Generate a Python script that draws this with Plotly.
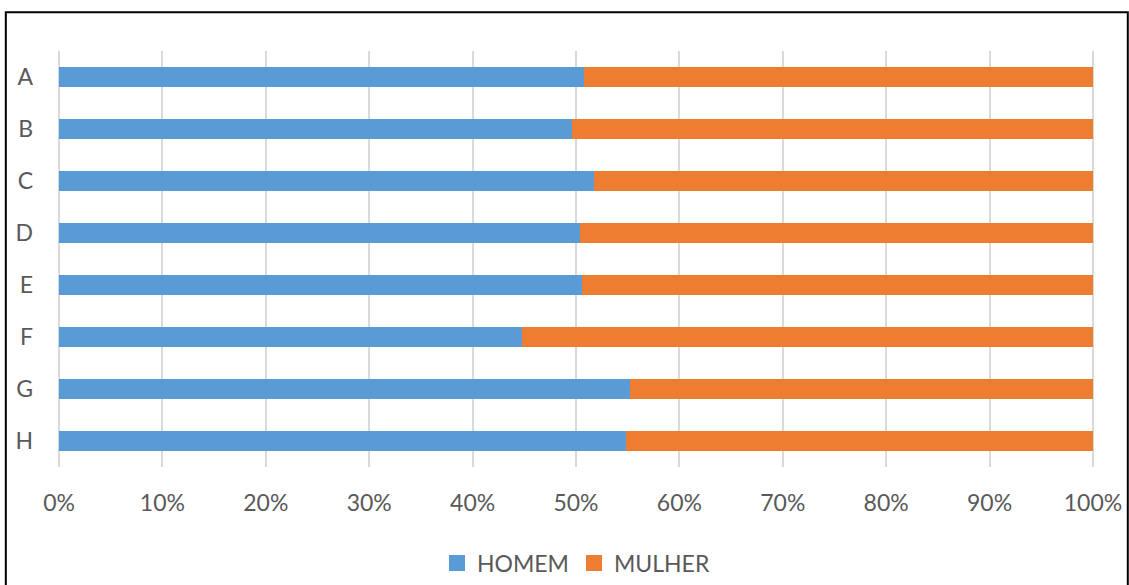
import plotly.graph_objects as go

# Share of men and women per group (fractions of 1)
categories = ["A", "B", "C", "D", "E", "F", "G", "H"]
homem = [0.5075, 0.496, 0.5175, 0.5036, 0.506, 0.4475, 0.552, 0.548]
mulher = [round(1 - h, 4) for h in homem]
tick_vals = [i / 10 for i in range(11)]
tick_text = [f"{i * 10}%" for i in range(11)]

BLUE = "#5B9BD5"
ORANGE = "#ED7D31"

W, H = 1129, 585
L, R, T, B = 57.5, 35.3, 51, 118
pw, ph = W - L - R, H - T - B
pad = 0.001  # keeps the 0% and 100% gridlines inside the plot area

font_family = "Lato, 'Open Sans', sans-serif"
text_color = "#595959"

fig = go.Figure()
fig.add_trace(go.Bar(
    y=categories, x=homem, name="HOMEM", orientation="h",
    marker=dict(color=BLUE, line=dict(width=0)), showlegend=False,
))
fig.add_trace(go.Bar(
    y=categories, x=mulher, name="MULHER", orientation="h",
    marker=dict(color=ORANGE, line=dict(width=0)), showlegend=False,
))

# Legend entries with larger square swatches
for name, color in [("HOMEM", BLUE), ("MULHER", ORANGE)]:
    fig.add_trace(go.Scatter(
        x=[None], y=[None], mode="markers", name=name,
        marker=dict(symbol="square", size=17, color=color),
        showlegend=True, hoverinfo="skip",
    ))


def px_x(px):
    return (px - L) / pw


def px_y(py):
    return (H - B - py) / ph


# Frame around the chart area
fig.add_shape(
    type="rect", xref="paper", yref="paper",
    x0=px_x(5.3), x1=px_x(1127.5), y0=px_y(620), y1=px_y(12.3),
    line=dict(color="black", width=2), fillcolor="rgba(0,0,0,0)",
    layer="above",
)

fig.update_layout(
    width=W, height=H,
    margin=dict(l=L, r=R, t=T, b=B, pad=0, autoexpand=False),
    barmode="stack",
    bargap=0.615,
    plot_bgcolor="white",
    paper_bgcolor="white",
    font=dict(family=font_family, size=23, color=text_color),
    showlegend=True,
    legend=dict(
        orientation="h", x=0.5, xanchor="center",
        yref="container", y=(H - 563) / H, yanchor="middle",
        font=dict(size=23, color=text_color), itemwidth=30,
        traceorder="normal", tracegroupgap=0,
    ),
    xaxis=dict(
        range=[-pad, 1 + pad], tickvals=tick_vals, ticktext=tick_text,
        showgrid=True, gridcolor="#D9D9D9", gridwidth=2,
        zeroline=False, showline=False, ticks="",
        ticklabelstandoff=20, automargin=False,
    ),
    yaxis=dict(
        autorange="reversed", showgrid=False, zeroline=False,
        showline=False, ticks="", ticklabelstandoff=24, automargin=False,
    ),
)

fig.write_html("out.html")
